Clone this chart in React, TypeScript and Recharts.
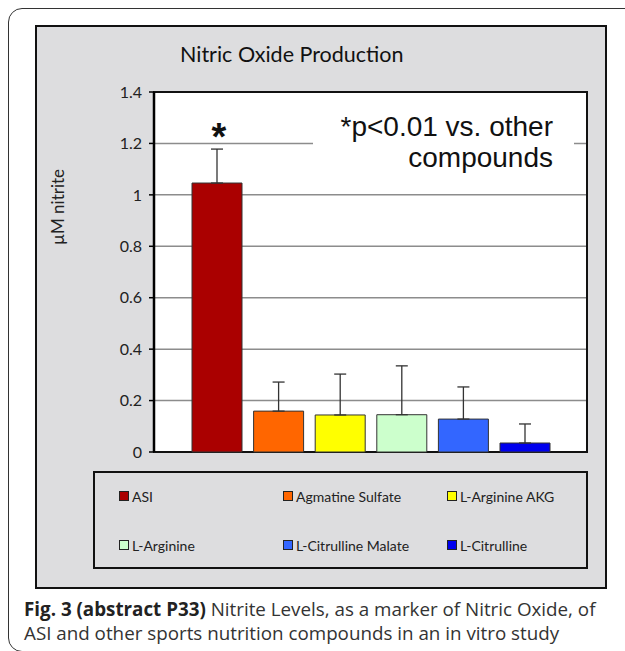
import React from 'react';
import {
  BarChart,
  Bar,
  XAxis,
  YAxis,
  CartesianGrid,
  ErrorBar,
  Legend,
  ReferenceArea,
} from 'recharts';

// compounds tested (one series each, single category like the Excel original)
const compounds = ['ASI', 'Agmatine Sulfate', 'L-Arginine AKG', 'L-Arginine', 'L-Citrulline Malate', 'L-Citrulline'];
// mean nitrite, µM
const nitrite = [1.046, 0.159, 0.144, 0.145, 0.128, 0.035];
// upper error (SD), drawn upward only
const sdUpper = [0.132, 0.113, 0.159, 0.19, 0.125, 0.074];
const barColors = ['#aa0000', '#ff6600', '#ffff00', '#ccffcc', '#3366ff', '#0000ee'];
const yTicks = [0, 0.2, 0.4, 0.6, 0.8, 1, 1.2, 1.4];

const row: Record<string, any> = { group: 'Nitric Oxide Production' };
compounds.forEach((c, i) => {
  row[`v${i}`] = nitrite[i];
  row[`e${i}`] = [0, sdUpper[i]];
});
const data = [row];

const calibri = 'Lato, "Open Sans", sans-serif';

const LegendBox = ({ payload }: any) => {
  // keep series order (recharts sorts legend items by name otherwise)
  const items = [...(payload || [])].sort(
    (a: any, b: any) => compounds.indexOf(a.value) - compounds.indexOf(b.value)
  );
  return (
    <div
      style={{
        boxSizing: 'border-box',
        width: 495,
        height: 98,
        border: '2px solid #111',
        display: 'grid',
        gridTemplateColumns: '164px 164px 140px',
        gridAutoRows: '20px',
        rowGap: 29,
        padding: '13px 0 0 24px',
        fontFamily: calibri,
        fontSize: 14,
        color: '#222',
      }}
    >
      {items.map((p: any) => (
        <div key={p.value} style={{ display: 'flex', alignItems: 'center', whiteSpace: 'nowrap' }}>
          <span
            style={{
              boxSizing: 'border-box',
              display: 'inline-block',
              width: 10,
              height: 10,
              background: p.color,
              border: '1px solid #222',
              marginRight: 3,
            }}
          />
          {p.value}
        </div>
      ))}
    </div>
  );
};

export default function App() {
  return (
    <div style={{ position: 'relative', width: 625, height: 651, overflow: 'hidden', background: '#fff' }}>
      <style>{'body{margin:0}'}</style>
      {/* rounded figure frame */}
      <div
        style={{
          position: 'absolute',
          left: 8,
          top: 8,
          width: 700,
          height: 644,
          border: '1.5px solid #333',
          borderRadius: 14,
          boxSizing: 'border-box',
        }}
      />
      {/* grey chart panel */}
      <div
        style={{
          position: 'absolute',
          left: 35,
          top: 25,
          width: 572,
          height: 564,
          boxSizing: 'border-box',
          border: '2px solid #111',
          background: '#dddddf',
        }}
      />
      <div
        style={{
          position: 'absolute',
          left: 180,
          top: 43,
          fontFamily: calibri,
          fontSize: 21.5,
          lineHeight: '22px',
          color: '#111',
          whiteSpace: 'nowrap',
        }}
      >
        Nitric Oxide Production
      </div>
      <div
        style={{
          position: 'absolute',
          left: 57,
          top: 207,
          transform: 'translate(-50%, -50%) rotate(-90deg)',
          fontFamily: calibri,
          fontSize: 17,
          color: '#222',
          whiteSpace: 'nowrap',
        }}
      >
        µM nitrite
      </div>

      <div style={{ position: 'absolute', left: 0, top: 0 }}>
        <BarChart
          width={600}
          height={600}
          data={data}
          barGap={11.6}
          margin={{ top: 92, right: 13, bottom: 148, left: 0 }}
        >
          <CartesianGrid vertical={false} stroke="#8c8c8c" strokeWidth={1.5} fill="#fff" fillOpacity={1} />
          <XAxis dataKey="group" hide />
          <YAxis
            domain={[0, 1.4]}
            ticks={yTicks}
            interval={0}
            width={154}
            tickSize={5}
            tickMargin={7}
            axisLine={{ stroke: '#000', strokeWidth: 2.5 }}
            tickLine={{ stroke: '#000', strokeWidth: 1.5 }}
            tick={{ fontFamily: calibri, fontSize: 16, fill: '#222' }}
          />
          <ReferenceArea y1={0} y2={1.4} fill="none" stroke="#111" strokeWidth={2} />
          {compounds.map((c, i) => (
            <Bar
              key={c}
              dataKey={`v${i}`}
              name={c}
              fill={barColors[i]}
              stroke="#333"
              strokeWidth={1}
              barSize={50}
              isAnimationActive={false}
            >
              <ErrorBar dataKey={`e${i}`} width={6} stroke="#333" strokeWidth={1.3} direction="y" />
            </Bar>
          ))}
          <Legend
            layout="vertical"
            align="center"
            verticalAlign="middle"
            content={<LegendBox />}
            wrapperStyle={{ left: 93, top: 471, width: 495, height: 98 }}
          />
        </BarChart>
      </div>

      {/* significance note, white box breaks the 1.2 gridline */}
      <div style={{ position: 'absolute', left: 313, top: 112, width: 261, height: 66, background: '#fff' }} />
      <div
        style={{
          position: 'absolute',
          left: 313,
          top: 111,
          width: 240,
          textAlign: 'right',
          fontFamily: '"Liberation Sans", Arial, sans-serif',
          fontSize: 28,
          lineHeight: '31px',
          color: '#111',
          whiteSpace: 'nowrap',
        }}
      >
        *p&lt;0.01 vs. other
        <br />
        compounds
      </div>
      <div
        style={{
          position: 'absolute',
          left: 219,
          top: 118,
          transform: 'translateX(-50%)',
          fontFamily: '"Liberation Sans", Arial, sans-serif',
          fontWeight: 'bold',
          fontSize: 38,
          lineHeight: '38px',
          color: '#111',
        }}
      >
        *
      </div>

      <div
        style={{
          position: 'absolute',
          left: 24,
          top: 598,
          fontFamily: '"Open Sans", sans-serif',
          fontSize: 18.8,
          lineHeight: '23.5px',
          color: '#333',
          whiteSpace: 'nowrap',
        }}
      >
        <b style={{ color: '#222' }}>Fig. 3 (abstract P33)</b> Nitrite Levels, as a marker of Nitric Oxide, of
        <br />
        ASI and other sports nutrition compounds in an in vitro study
      </div>
    </div>
  );
}
